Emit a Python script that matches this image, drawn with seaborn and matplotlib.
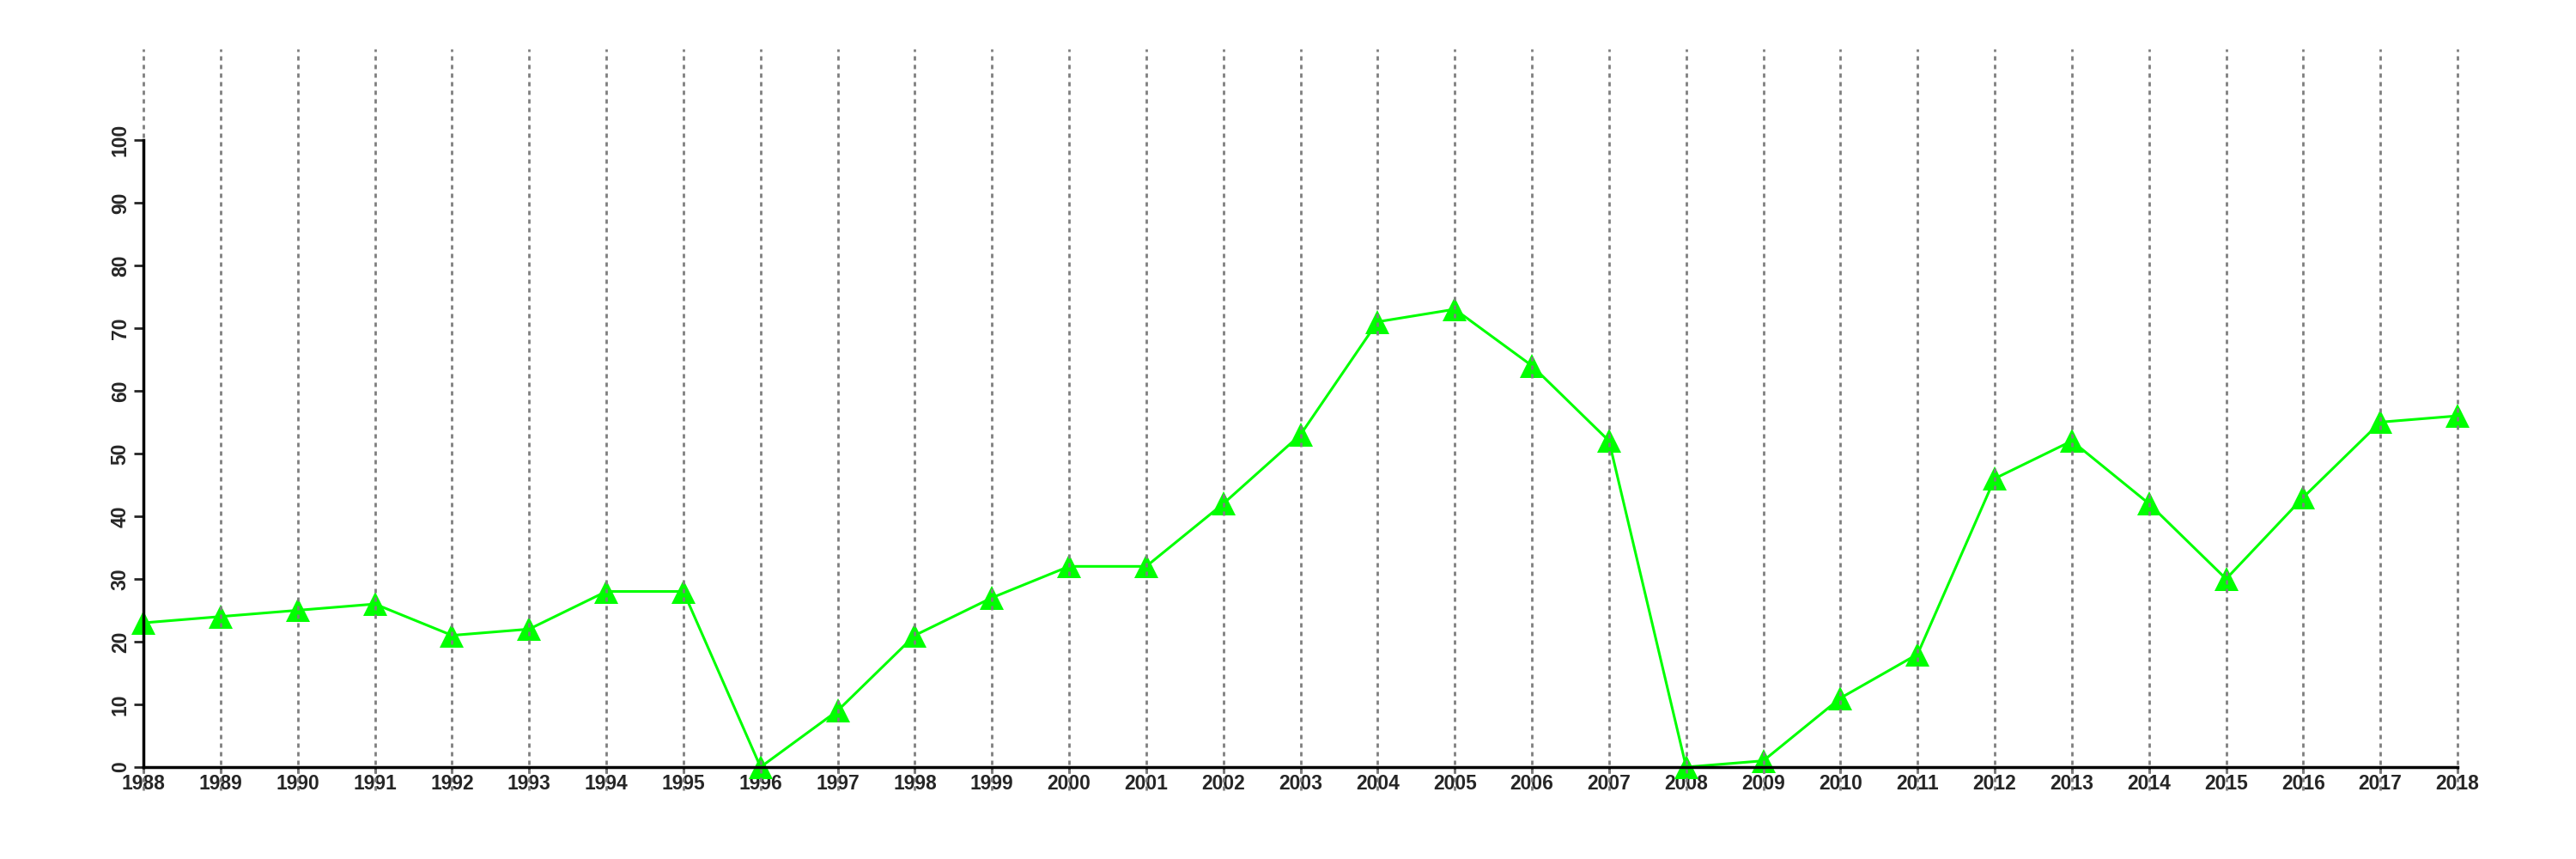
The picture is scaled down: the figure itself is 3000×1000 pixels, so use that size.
import matplotlib
matplotlib.use("Agg")
import matplotlib.pyplot as plt
import seaborn as sns
import pandas as pd

years = list(range(1988, 2019))
values = [23, 24, 25, 26, 21, 22, 28, 28, 0, 9, 21, 27, 32, 32, 42, 53,
          71, 73, 64, 52, 0, 1, 11, 18, 46, 52, 42, 30, 43, 55, 56]
y_ticks = [0, 10, 20, 30, 40, 50, 60, 70, 80, 90, 100]

df = pd.DataFrame({"year": years, "value": values})

sns.set_style("white")
plt.rcParams["font.family"] = ["Liberation Sans", "DejaVu Sans"]
plt.rcParams["font.weight"] = "bold"
plt.rcParams["xtick.labelsize"] = 16.5
plt.rcParams["ytick.labelsize"] = 16.5

fig = plt.figure(figsize=(30, 10), dpi=100)
ax = fig.add_axes([0.0557, 0.08, 0.954 - 0.0557, 0.943 - 0.08])

sns.lineplot(data=df, x="year", y="value", ax=ax, color="#00FF00",
             linewidth=2.2, marker="^", markersize=20, markeredgewidth=0,
             markerfacecolor="#00FF00", zorder=3, clip_on=False)

for yr in years:
    ax.axvline(yr, color="#7f7f7f", linestyle=(0, (1.8, 1.8)), linewidth=2,
               zorder=4, clip_on=False)

ax.set_xlim(1988, 2018)
ax.set_ylim(-3.7, 114.5)
ax.set_xticks(years)
ax.set_xticklabels([str(y) for y in years], fontweight="bold")
ax.set_yticks(y_ticks)
ax.set_yticklabels([str(v) for v in y_ticks], rotation=90, va="center",
                   fontweight="bold")
ax.set_xlabel("")
ax.set_ylabel("")

for s in ["top", "right"]:
    ax.spines[s].set_visible(False)
for s in ["left", "bottom"]:
    ax.spines[s].set_linewidth(2.5)
    ax.spines[s].set_color("black")
    ax.spines[s].set_zorder(5)
ax.spines["left"].set_bounds(0, 100)
ax.spines["bottom"].set_position(("data", 0))
ax.spines["bottom"].set_bounds(1988, 2018)
ax.tick_params(axis="y", direction="out", length=8, width=2, pad=3, left=True)
ax.tick_params(axis="x", direction="out", length=5, width=2, pad=1, bottom=True)

fig.savefig("out.png", dpi=100, facecolor="white")
